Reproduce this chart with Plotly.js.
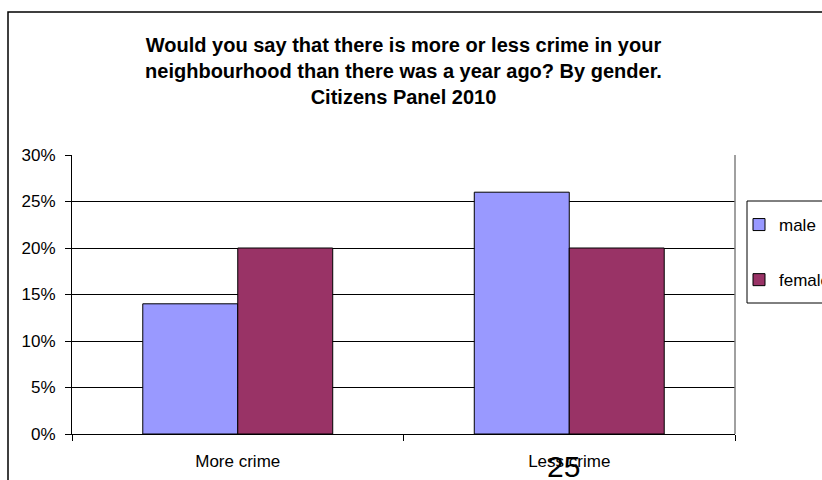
<!DOCTYPE html>
<html>
<head>
<meta charset="utf-8">
<script src="https://cdn.plot.ly/plotly-3.0.1.min.js"></script>
<style>html,body{margin:0;padding:0;background:#fff;}#chart{width:822px;height:480px;}</style>
</head>
<body>
<div id="chart"></div>
<script>
const categories = ["More crime", "Less crime"];
const maleValues = [0.14, 0.26];
const femaleValues = [0.20, 0.20];
const seriesNames = ["male", "female"];
const yTickValues = [0, 0.05, 0.10, 0.15, 0.20, 0.25, 0.30];
const titleText = "Would you say that there is more or less crime in your<br>neighbourhood than there was a year ago? By gender.<br>Citizens Panel 2010";
const pageNumber = "25";

const FONT = "Arial, 'Liberation Sans', sans-serif";
const W = 822, H = 480;
const L = 72, R = 735, T = 155, B = 434;
const pw = R - L, ph = B - T;
const px = x => (x - L) / pw;
const py = y => (B - y) / ph;

const traces = [
  {type: "bar", name: seriesNames[0], x: categories, y: maleValues, legendgroup: "a",
   marker: {color: "#9999FF", line: {color: "#000", width: 1}}, hoverinfo: "skip"},
  {type: "bar", name: seriesNames[1], x: categories, y: femaleValues, legendgroup: "b",
   marker: {color: "#993366", line: {color: "#000", width: 1}}, hoverinfo: "skip"}
];

const layout = {
  width: W, height: H,
  margin: {l: L, r: W - R, t: T, b: H - B, pad: 0, autoexpand: false},
  paper_bgcolor: "#fff", plot_bgcolor: "#fff",
  font: {family: FONT, size: 17, color: "#000"},
  title: {text: titleText, font: {family: FONT, size: 20, color: "#000", weight: "bold"},
          x: 0.5, xref: "paper", xanchor: "center", y: 1 - 52 / H, yref: "container", yanchor: "top"},
  barmode: "group", bargap: 0.427, bargroupgap: 0,
  xaxis: {type: "category", showline: true, linecolor: "#000", linewidth: 1,
          ticks: "outside", ticklen: 6, tickcolor: "#000", tickson: "boundaries",
          showgrid: false, zeroline: false, ticklabelstandoff: 12,
          tickfont: {family: FONT, size: 17, color: "#000"}},
  yaxis: {range: [0, 0.30], tickvals: yTickValues, tickformat: ".0%",
          showline: true, linecolor: "#000", linewidth: 1,
          ticks: "outside", ticklen: 6, tickcolor: "#000",
          showgrid: true, gridcolor: "#000", gridwidth: 1, zeroline: false,
          ticklabelstandoff: 6, tickfont: {family: FONT, size: 17, color: "#000"}},
  showlegend: true,
  legend: {x: px(739), xanchor: "left", y: py(207), yanchor: "top",
           bgcolor: "rgba(0,0,0,0)", bordercolor: "rgba(0,0,0,0)", borderwidth: 0,
           font: {family: FONT, size: 17, color: "#000"},
           tracegroupgap: 30, itemwidth: 30, traceorder: "grouped"},
  shapes: [
    {type: "rect", xref: "paper", yref: "paper", x0: px(8), x1: px(840), y0: py(500), y1: py(12),
     line: {color: "#000", width: 1.5}, fillcolor: "rgba(0,0,0,0)", layer: "below"},
    {type: "line", xref: "paper", yref: "paper", x0: 1, x1: 1, y0: 0, y1: 1,
     line: {color: "#808080", width: 1.5}},
    {type: "rect", xref: "paper", yref: "paper", x0: px(747), x1: px(900), y0: py(303), y1: py(201),
     line: {color: "#000", width: 1}, fillcolor: "rgba(0,0,0,0)"}
  ],
  annotations: [
    {text: pageNumber, xref: "paper", yref: "paper", x: px(563), y: py(466),
     xanchor: "center", yanchor: "middle", showarrow: false,
     font: {family: FONT, size: 30, color: "#000"}}
  ]
};

Plotly.newPlot("chart", traces, layout, {displayModeBar: false, staticPlot: true});
</script>
</body>
</html>
